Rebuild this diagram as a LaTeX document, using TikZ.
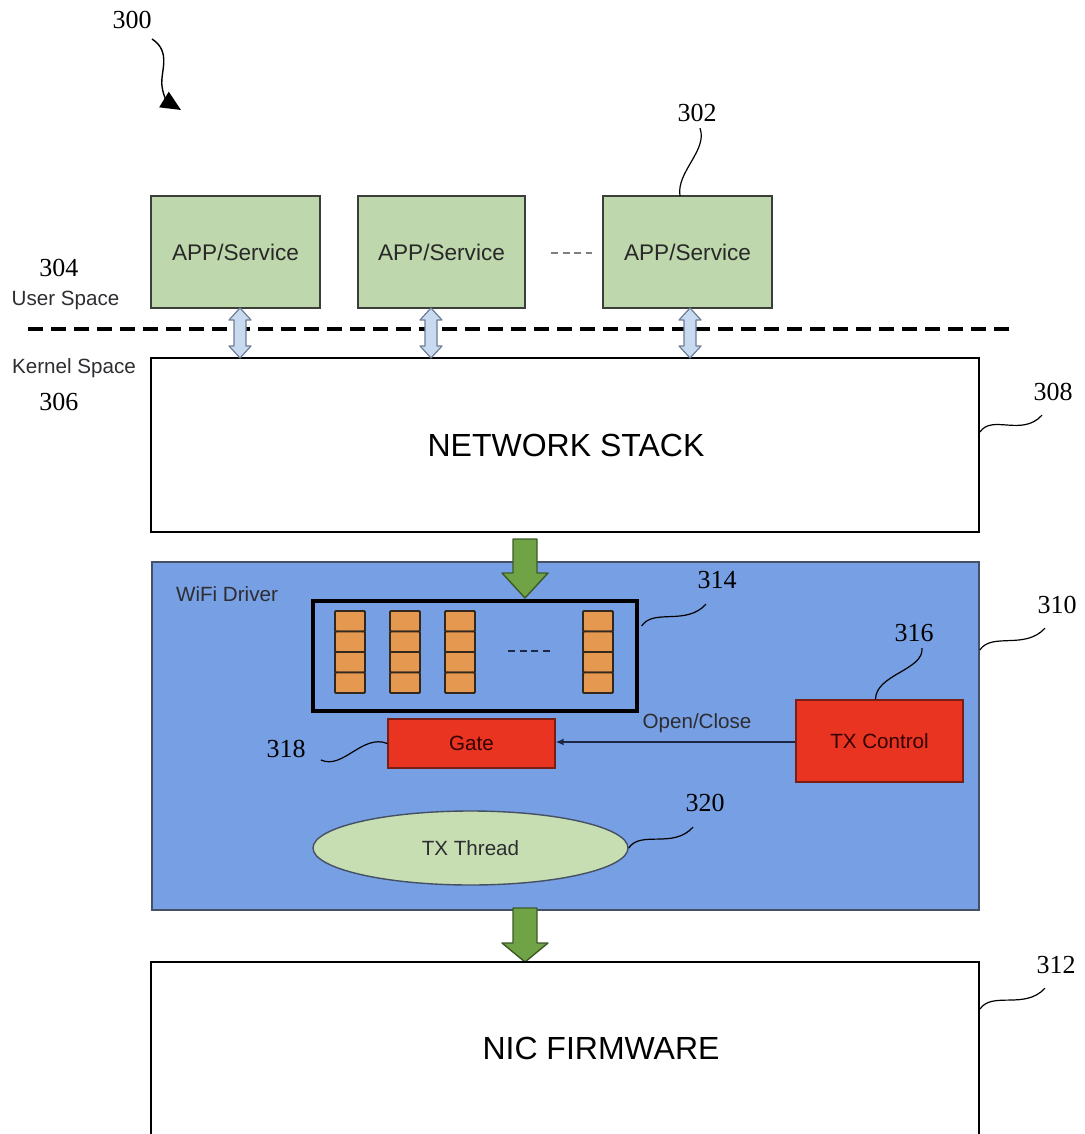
\documentclass[tikz,border=0pt]{standalone}
\usepackage{fontspec}
\setmainfont{Liberation Sans}
\newfontfamily\numfont{Liberation Serif}
\usetikzlibrary{arrows.meta,shapes.geometric,calc}
\definecolor{appgreen}{RGB}{190,215,172}
\definecolor{appedge}{RGB}{60,62,58}
\definecolor{apptext}{RGB}{40,40,40}
\definecolor{wifiblue}{RGB}{119,159,227}
\definecolor{wifiedge}{RGB}{70,80,100}
\definecolor{qorange}{RGB}{228,152,80}
\definecolor{qedge}{RGB}{50,40,30}
\definecolor{redbox}{RGB}{232,52,32}
\definecolor{rededge}{RGB}{120,30,20}
\definecolor{ellgreen}{RGB}{198,222,178}
\definecolor{arrgreen}{RGB}{112,162,70}
\definecolor{arredge}{RGB}{60,90,40}
\definecolor{dblfill}{RGB}{200,218,240}
\definecolor{dbledge}{RGB}{110,125,150}
\definecolor{smalltext}{RGB}{45,45,50}
\definecolor{darkline}{RGB}{30,40,70}
\tikzset{
  appbox/.style={draw=appedge, fill=appgreen, line width=1pt, minimum width=84.5pt, minimum height=56pt, inner sep=0pt, font=\fontsize{11.3}{13}\selectfont, text=apptext},
  bigbox/.style={draw=black, line width=1pt, fill=white, inner sep=0pt},
  lbl/.style={font=\numfont\fontsize{13}{15}\selectfont, inner sep=0pt},
  lead/.style={draw=black, line width=0.6pt},
  small/.style={font=\fontsize{10.3}{12}\selectfont, text=smalltext, inner sep=0pt},
  bigtext/.style={font=\fontsize{16}{19}\selectfont, text=black, inner sep=0pt},
  redbox/.style={draw=rededge, fill=redbox, line width=0.6pt, inner sep=0pt, font=\fontsize{10.3}{12}\selectfont, text=black!80!red},
  cell/.style={draw=qedge, fill=qorange, line width=0.9pt, rounded corners=0.5pt},
  dblarr/.style={draw=dbledge, fill=dblfill, line width=0.6pt, line join=round},
  grnarr/.style={draw=arredge, fill=arrgreen, line width=0.7pt, line join=round},
  dotsline/.style={line width=0.8pt, dash pattern=on 3.5pt off 2.3pt},
}
\begin{document}
\begin{tikzpicture}[x=0.5pt, y=-0.5pt]
\useasboundingbox (0,0) rectangle (1085,1134);
\clip (0,0) rectangle (1085,1134);

% label 300 with wavy arrow
\node[lbl] (l300) at (132,20) {300};
\coordinate (s300) at (152,39);
\coordinate (e300) at (181,110);
\draw[line width=0.7pt, -{Triangle[length=10pt,width=9pt]}] (s300) .. controls (172,52) and (160,72) .. (162,86) .. controls (163,96) and (168,102) .. (e300);

% user space apps
\node[appbox] (app1) at (235.5,252) {APP/Service};
\node[appbox, minimum width=83.5pt] (app2) at (441.5,252) {APP/Service};
\node[appbox] (app3) at (687.5,252) {APP/Service};
\draw[dotsline, gray] ($(app2.east)+(25,1)$) -- ($(app3.west)+(-10,1)$);

\node[lbl] (l302) at (697,113) {302};
\coordinate (t302) at (680,196);
\draw[lead] ($(l302.south)+(3,6)$) .. controls +(8,22) and +(-4,-24) .. (t302);

\node[lbl] (l304) at (59,268) {304};
\node[small] (us) at (65.5,300) {User Space};
\node[small] (ks) at (74,368) {Kernel Space};
\node[lbl] (l306) at (59,402) {306};

% user/kernel divider
\coordinate (d1) at (28,329);
\coordinate (d2) at (1012,329);
\draw[line width=2pt, dash pattern=on 7.5pt off 4pt] (d1) -- (d2);

% network stack
\node[bigbox, minimum width=414pt, minimum height=87pt] (ns) at (565,445) {};
\node[bigtext] (nst) at (566,445) {NETWORK STACK};
\node[lbl] (l308) at (1053,392) {308};
\draw[lead] ($(ns.east)+(0,-13)$) .. controls +(12,-18) and +(-20,22) .. ($(l308.south)+(-11,14)$);

% double arrows app <-> stack
\foreach \X in {240,431,690}{
  \draw[dblarr] (\X,308) -- (\X+11,320) -- (\X+6,320) -- (\X+6,346) -- (\X+11,346) -- (\X,358) -- (\X-11,346) -- (\X-6,346) -- (\X-6,320) -- (\X-11,320) -- cycle;
}

% wifi driver
\node[draw=wifiedge, fill=wifiblue, line width=0.8pt, minimum width=413.5pt, minimum height=174pt, inner sep=0pt] (wifi) at (565.5,736) {};
\node[small] (wt) at (227,594) {WiFi Driver};

% green arrow stack -> wifi
\draw[grnarr] (513,539) -- (537,539) -- (537,573) -- (548,573) -- (525,598) -- (502,573) -- (513,573) -- cycle;

% queues
\node[draw=black, line width=1.6pt, minimum width=162pt, minimum height=55pt, inner sep=0pt] (qbox) at (475,656) {};
\foreach \cx in {335,390,445,583}{
  \foreach \r in {0,1,2,3}{
    \draw[cell] (\cx,611+\r*20.5) rectangle (\cx+30,631.5+\r*20.5);
  }
}
\draw[dotsline, darkline] (508,651) -- (553,651);
\node[lbl] (l314) at (717,580) {314};
\draw[lead] ($(qbox.east)+(3,-30)$) .. controls +(12,-18) and +(-20,22) .. ($(l314.south)+(-11,15)$);

\node[lbl] (l310) at (1057,605) {310};
\draw[lead] ($(wifi.east)+(0,-86)$) .. controls +(12,-18) and +(-20,22) .. ($(l310.south)+(-12,14)$);

% TX control and gate
\node[redbox, minimum width=83.5pt, minimum height=41pt] (txc) at (879.5,741) {TX Control};
\node[redbox, minimum width=83.5pt, minimum height=24.5pt] (gate) at (471.5,743.5) {Gate};
\draw[darkline, line width=0.8pt, -{Latex[length=4pt,width=3.5pt]}] (txc.west |- 0,742) -- (gate.east |- 0,742);
\node[small] (oc) at (697,723) {Open/Close};

\node[lbl] (l316) at (914,633) {316};
\draw[lead] ($(txc.north)+(-4,0)$) .. controls +(0,-25) and +(2,22) .. ($(l316.south)+(8,6)$);

\node[lbl] (l318) at (286,749) {318};
\draw[lead] ($(l318.east)+(15,11)$) .. controls +(22,10) and +(-25,-10) .. (gate.west);

% TX thread
\node[ellipse, draw=wifiedge, fill=ellgreen, line width=0.7pt, minimum width=157.5pt, minimum height=37pt, inner sep=0pt, font=\fontsize{10.3}{12}\selectfont, text=smalltext] (txt) at (470.5,848) {TX Thread};
\node[lbl] (l320) at (705,803) {320};
\draw[lead] (txt.east) .. controls +(12,-18) and +(-20,22) .. ($(l320.south)+(-12,15)$);

% green arrow wifi -> nic
\draw[grnarr] (513,908) -- (537,908) -- (537,943) -- (548,943) -- (525,962) -- (502,943) -- (513,943) -- cycle;

% NIC firmware
\node[bigbox, minimum width=414pt, minimum height=110pt] (nic) at (565,1072) {};
\node[bigtext] (nict) at (601,1048) {NIC FIRMWARE};
\node[lbl] (l312) at (1056,965) {312};
\draw[lead] ($(nic.north east)+(0,48)$) .. controls +(12,-18) and +(-20,22) .. ($(l312.south)+(-11,14)$);
\end{tikzpicture}
\end{document}
